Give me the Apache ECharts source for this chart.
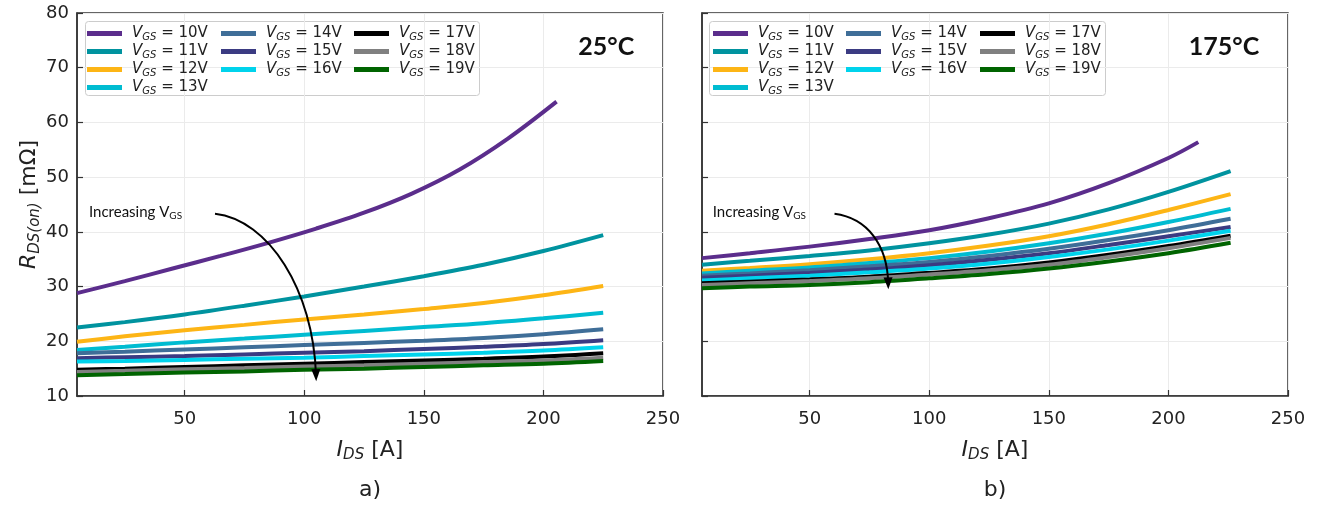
<!DOCTYPE html>
<html><head><meta charset="utf-8">
<script src="https://cdn.jsdelivr.net/npm/echarts@6/dist/echarts.min.js"></script>
<style>html,body{margin:0;padding:0;background:#fff}#c{width:1319px;height:505px}</style>
</head><body><div id="c"></div>
<script>
// ---- data ----
const vgsLevels = ['10V','11V','12V','13V','14V','15V','16V','17V','18V','19V'];
const lineColors = ['#5b2d8c','#00939f','#fdb515','#00bcd1','#3f6e98','#3b3b82','#00d3ec','#000000','#808080','#006400'];
const xTicks = [50, 100, 150, 200, 250];

// 25 °C panel (a)
const I25_10V = [5, 25, 45, 65, 85, 105, 125, 145, 165, 185, 205.5];
const R25_10V = [28.8, 31.0, 33.3, 35.6, 38.0, 40.6, 43.5, 47.0, 51.4, 57.0, 63.8];
const I25 = [5, 25, 50, 75, 100, 125, 150, 175, 200, 225];
const R25_11V = [22.5, 23.5, 24.9, 26.5, 28.2, 30.0, 31.9, 34.0, 36.5, 39.4];
const R25_12V = [19.9, 20.9, 22.0, 23.0, 24.0, 24.9, 25.9, 27.0, 28.4, 30.1];
const R25_13V = [18.4, 19.0, 19.8, 20.5, 21.2, 21.9, 22.6, 23.3, 24.2, 25.2];
const R25_14V = [17.8, 18.1, 18.5, 18.9, 19.3, 19.7, 20.1, 20.6, 21.3, 22.2];
const R25_15V = [16.9, 17.1, 17.3, 17.6, 17.9, 18.2, 18.6, 19.0, 19.5, 20.2];
const R25_16V = [16.3, 16.4, 16.6, 16.8, 17.0, 17.3, 17.6, 17.9, 18.3, 18.9];
const R25_17V = [14.8, 15.0, 15.3, 15.6, 15.9, 16.2, 16.5, 16.8, 17.2, 17.8];
const R25_18V = [14.4, 14.6, 14.9, 15.1, 15.4, 15.6, 15.9, 16.2, 16.5, 17.0];
const R25_19V = [13.8, 14.0, 14.3, 14.5, 14.8, 15.0, 15.3, 15.6, 15.9, 16.4];

// 175 °C panel (b)
const I175_10V = [5, 25, 50, 75, 100, 125, 150, 175, 200, 212.5];
const R175_10V = [35.2, 36.1, 37.3, 38.7, 40.3, 42.5, 45.2, 48.9, 53.5, 56.4];
const I175 = [5, 25, 50, 75, 100, 125, 150, 175, 200, 226];
const R175_11V = [34.0, 34.7, 35.6, 36.6, 37.9, 39.5, 41.5, 44.1, 47.3, 51.1];
const R175_12V = [32.9, 33.4, 34.1, 35.0, 36.1, 37.5, 39.2, 41.4, 44.0, 46.9];
const R175_13V = [32.4, 32.9, 33.5, 34.3, 35.2, 36.4, 37.9, 39.7, 41.8, 44.2];
const R175_14V = [32.0, 32.4, 33.0, 33.7, 34.5, 35.6, 36.9, 38.5, 40.3, 42.4];
const R175_15V = [31.6, 32.0, 32.5, 33.1, 33.9, 34.9, 36.1, 37.6, 39.2, 40.9];
const R175_16V = [31.1, 31.5, 32.0, 32.6, 33.3, 34.2, 35.4, 36.8, 38.4, 40.2];
const R175_17V = [30.6, 30.9, 31.3, 31.8, 32.5, 33.3, 34.4, 35.8, 37.4, 39.3];
const R175_18V = [30.3, 30.6, 31.0, 31.5, 32.2, 33.0, 34.0, 35.4, 37.0, 38.9];
const R175_19V = [29.7, 30.0, 30.3, 30.8, 31.5, 32.3, 33.3, 34.6, 36.1, 38.0];

// annotation anchors (data coordinates)
const arrowA = [[62.7, 43.3], [85.1, 42.2], [103.8, 29.4], [105, 12.7]];
const arrowB = [[60.4, 43.3], [74.2, 42.5], [82.5, 37.6], [82.9, 29.5]];
const textA = [10, 43.6];
const textB = [9.5, 43.6];
const tempA = [238, 73.8];
const tempB = [238, 73.8];

// ---- build ----
const zip = (xs, ys) => xs.map((x, i) => [x, ys[i]]);
const panelA = [zip(I25_10V, R25_10V), zip(I25, R25_11V), zip(I25, R25_12V), zip(I25, R25_13V), zip(I25, R25_14V),
  zip(I25, R25_15V), zip(I25, R25_16V), zip(I25, R25_17V), zip(I25, R25_18V), zip(I25, R25_19V)];
const panelB = [zip(I175_10V, R175_10V), zip(I175, R175_11V), zip(I175, R175_12V), zip(I175, R175_13V), zip(I175, R175_14V),
  zip(I175, R175_15V), zip(I175, R175_16V), zip(I175, R175_17V), zip(I175, R175_18V), zip(I175, R175_19V)];

const names = vgsLevels.map(v => 'VGS = ' + v);
const series = [];
[panelA, panelB].forEach((panel, gi) => {
  panel.forEach((d, k) => {
    series.push({
      name: names[k], type: 'line', xAxisIndex: gi, yAxisIndex: gi, data: d,
      showSymbol: false, smooth: 0.35, silent: true,
      lineStyle: { width: 4, color: lineColors[k] }, itemStyle: { color: lineColors[k] }, z: 2 + k
    });
  });
});

const tickFont = 'DejaVu Sans';
const frameColor = '#333';
function xAxis(gi) {
  return {
    type: 'value', gridIndex: gi, min: 5, max: 250,
    axisLine: { show: true, lineStyle: { color: frameColor, width: 1.5 } },
    axisTick: { show: true, inside: true, length: 6, customValues: xTicks, lineStyle: { color: frameColor, width: 1.2 } },
    axisLabel: { customValues: xTicks, fontFamily: tickFont, fontSize: 18, color: '#222', margin: 14 },
    splitLine: { show: true, lineStyle: { color: '#ebebeb', width: 1 } },
    name: '{i|I}{s|DS}{n| [A]}', nameLocation: 'middle', nameGap: 42,
    nameTextStyle: { rich: {
      i: { fontFamily: tickFont, fontStyle: 'italic', fontSize: 22, color: '#222' },
      s: { fontFamily: tickFont, fontStyle: 'italic', fontSize: 15, color: '#222', padding: [10, 0, 0, 0] },
      n: { fontFamily: tickFont, fontSize: 22, color: '#222' } } }
  };
}
function yAxis(gi, labels) {
  const a = {
    type: 'value', gridIndex: gi, min: 10, max: 80, interval: 10,
    axisLine: { show: true, lineStyle: { color: frameColor, width: 1.5 } },
    axisTick: { show: true, inside: true, length: 6, lineStyle: { color: frameColor, width: 1.2 } },
    axisLabel: { show: labels, fontFamily: tickFont, fontSize: 18, color: '#222', margin: 8 },
    splitLine: { show: true, lineStyle: { color: '#ebebeb', width: 1 } }
  };
  if (labels) {
    a.name = '{i|R}{s|DS(on)}{n| [mΩ]}';
    a.nameLocation = 'middle';
    a.nameGap = 34;
    a.nameTextStyle = { rich: {
      i: { fontFamily: tickFont, fontStyle: 'italic', fontSize: 22, color: '#222' },
      s: { fontFamily: tickFont, fontStyle: 'italic', fontSize: 15, color: '#222', padding: [10, 0, 0, 0] },
      n: { fontFamily: tickFont, fontSize: 22, color: '#222' } } };
  }
  return a;
}

const legendRich = {
  i: { fontFamily: tickFont, fontStyle: 'italic', fontSize: 15, color: '#222', lineHeight: 15 },
  s: { fontFamily: tickFont, fontStyle: 'italic', fontSize: 10, color: '#222', lineHeight: 15, padding: [7, 0, 0, 0] },
  n: { fontFamily: tickFont, fontSize: 15, color: '#222', lineHeight: 15 }
};
function legend(left, top, idx) {
  return {
    left, top, orient: 'vertical', data: idx.map(k => names[k]), selectedMode: false,
    icon: 'rect', itemWidth: 35, itemHeight: 5, itemGap: 1, padding: 0,
    formatter: n => '{i|V}{s|GS}{n| = ' + n.replace('VGS = ', '') + '}',
    textStyle: { rich: legendRich, padding: [0, 0, 0, 5] }
  };
}
const colIdx = [[0, 1, 2, 3], [4, 5, 6], [7, 8, 9]];
const legends = [];
[[87, 221, 354], [713, 846, 980]].forEach(cols => {
  cols.forEach((x, c) => legends.push(legend(x, 25, colIdx[c])));
});

const option = {
  animation: false,
  backgroundColor: '#fff',
  grid: [
    { left: 77, right: 1319 - 663, top: 13, bottom: 505 - 396, show: true, borderColor: frameColor, borderWidth: 1.5 },
    { left: 702, right: 1319 - 1288, top: 13, bottom: 505 - 396, show: true, borderColor: frameColor, borderWidth: 1.5 }
  ],
  xAxis: [xAxis(0), xAxis(1)],
  yAxis: [yAxis(0, true), yAxis(1, false)],
  legend: legends,
  series
};

const chart = echarts.init(document.getElementById('c'), null, { renderer: 'canvas' });
chart.setOption(option);

function px(gi, p) { return chart.convertToPixel({ gridIndex: gi }, p); }
function arrow(gi, pts) {
  const [p0, p1, p2, p3] = pts.map(p => px(gi, p));
  const dx = p3[0] - p2[0], dy = p3[1] - p2[1];
  const L = Math.hypot(dx, dy), ux = dx / L, uy = dy / L;
  const hl = 12, hw = 4.5;
  const base = [p3[0] - ux * hl, p3[1] - uy * hl];
  const end = [p3[0] - ux * 6, p3[1] - uy * 6];
  return [
    { type: 'bezierCurve', shape: { x1: p0[0], y1: p0[1], cpx1: p1[0], cpy1: p1[1], cpx2: p2[0], cpy2: p2[1], x2: end[0], y2: end[1] },
      style: { stroke: '#000', lineWidth: 2, fill: null }, z: 100 },
    { type: 'polygon', shape: { points: [p3, [base[0] - uy * hw, base[1] + ux * hw], [base[0] + uy * hw, base[1] - ux * hw]] },
      style: { fill: '#000' }, z: 100 }
  ];
}
function incText(gi, p) {
  const q = px(gi, p);
  return { type: 'text', x: q[0], y: q[1], z: 100, style: {
    text: '{a|Increasing V}{b|GS}', verticalAlign: 'middle',
    rich: { a: { fontFamily: 'Lato', fontSize: 15, fill: '#111', lineHeight: 18 },
            b: { fontFamily: 'Lato', fontSize: 10, fill: '#111', lineHeight: 18, padding: [8, 0, 0, 0] } } } };
}
function tempText(gi, p, t) {
  const q = px(gi, p);
  return { type: 'text', x: q[0], y: q[1], z: 100, style: {
    text: t, align: 'right', verticalAlign: 'middle', font: 'bold 25px Lato', fill: '#111' } };
}
const boxes = [[85, 21, 394, 74], [709, 21, 396, 74]].map(b => ({
  type: 'rect', shape: { x: b[0] + 0.5, y: b[1] + 0.5, width: b[2], height: b[3], r: 3 },
  style: { fill: 'rgba(255,255,255,0.85)', stroke: '#cccccc', lineWidth: 1 }, z: -1, zlevel: 0
}));
const graphics = [
  ...boxes,
  ...arrow(0, arrowA), ...arrow(1, arrowB),
  incText(0, textA), incText(1, textB),
  tempText(0, tempA, '25°C'), tempText(1, tempB, '175°C'),
  { type: 'text', x: 370, y: 490, style: { text: 'a)', align: 'center', verticalAlign: 'middle', font: '22px "DejaVu Sans"', fill: '#222' } },
  { type: 'text', x: 995, y: 490, style: { text: 'b)', align: 'center', verticalAlign: 'middle', font: '22px "DejaVu Sans"', fill: '#222' } }
];
chart.setOption({ graphic: graphics });
</script>
</body></html>
